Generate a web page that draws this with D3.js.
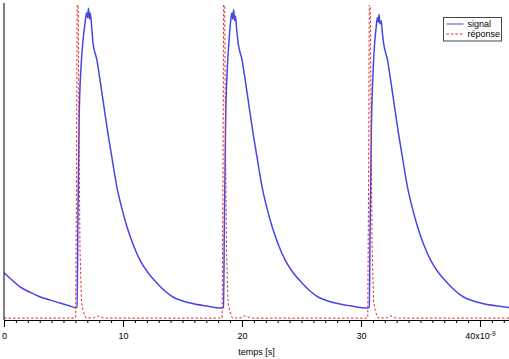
<!DOCTYPE html>
<html>
<head>
<meta charset="utf-8">
<script src="https://cdn.jsdelivr.net/npm/d3@7"></script>
<style>
  body { margin: 0; background: #fff; }
  svg { display: block; font-family: "Liberation Sans", Arial, sans-serif; }
</style>
</head>
<body>
<div id="chart"></div>
<script>
// signal (blue) : time in ns, amplitude in arbitrary units
const sigT = [0, 0.7, 1.34, 2.2, 3.0, 3.9, 4.7, 5.4, 6.05, 6.14, 6.22, 6.32, 6.47, 6.62, 6.8, 6.95, 7.03, 7.1, 7.18, 7.25, 7.35,
  7.48, 7.81, 8.07, 8.35, 8.65, 9.05, 9.49, 9.9, 10.34, 10.85, 11.43, 12.1, 12.86, 13.5, 14.2, 14.9, 15.63, 16.9, 18.3, 18.45,
  18.52, 18.62, 18.77, 18.92, 19.05, 19.15, 19.22, 19.3, 19.38, 19.45, 19.56,
  19.68, 20.01, 20.27, 20.55, 20.85, 21.25, 21.69, 22.1, 22.54, 23.05, 23.63, 24.3, 25.06, 25.7, 26.4, 27.1, 27.83, 29.1, 30.55, 30.7,
  30.77, 30.87, 31.02, 31.15, 31.28, 31.38, 31.45, 31.52, 31.6, 31.7, 31.8,
  31.9, 32.23, 32.49, 32.77, 33.07, 33.47, 33.91, 34.32, 34.76, 35.27, 35.85, 36.52, 37.28, 37.92, 38.62, 39.32, 40.05, 41.32, 42.44];
const sigV = [0.150, 0.126, 0.105, 0.088, 0.074, 0.063, 0.054, 0.046, 0.039, 0.040, 0.35, 0.65, 0.80, 0.88, 0.94, 0.975, 0.96, 0.99, 0.955, 0.975, 0.94,
  0.879, 0.825, 0.762, 0.69, 0.613, 0.52, 0.422, 0.355, 0.295, 0.24, 0.19, 0.15, 0.117, 0.093, 0.073, 0.062, 0.054, 0.045, 0.038, 0.040,
  0.30, 0.62, 0.80, 0.89, 0.95, 0.975, 0.955, 0.985, 0.95, 0.965, 0.92,
  0.879, 0.825, 0.762, 0.69, 0.613, 0.52, 0.422, 0.355, 0.295, 0.24, 0.19, 0.15, 0.117, 0.093, 0.073, 0.062, 0.054, 0.045, 0.038, 0.040,
  0.30, 0.60, 0.79, 0.88, 0.93, 0.96, 0.945, 0.97, 0.94, 0.95, 0.91,
  0.879, 0.825, 0.762, 0.69, 0.613, 0.52, 0.422, 0.355, 0.295, 0.24, 0.19, 0.15, 0.117, 0.093, 0.073, 0.062, 0.054, 0.045, 0.040];

// réponse (red dashed)
const repT = [0, 6.02, 6.1, 6.15, 6.23, 6.3, 6.39, 6.51, 6.64, 6.88, 7.6, 7.85, 8.05, 8.3, 8.6,
  18.33, 18.41, 18.46, 18.54, 18.61, 18.7, 18.82, 18.95, 19.19, 19.95, 20.2, 20.4, 20.65, 20.95,
  30.57, 30.65, 30.7, 30.78, 30.85, 30.94, 31.06, 31.19, 31.43, 32.2, 32.45, 32.65, 32.9, 33.2, 42.44];
const repV = [0.006, 0.006, 0.5, 1.05, 1.05, 0.6, 0.22, 0.06, 0.03, 0.006, 0.007, 0.013, 0.011, 0.007, 0.006,
  0.006, 0.5, 1.05, 1.05, 0.6, 0.22, 0.06, 0.03, 0.006, 0.007, 0.013, 0.011, 0.007, 0.006,
  0.006, 0.5, 1.05, 1.05, 0.6, 0.22, 0.06, 0.03, 0.006, 0.007, 0.013, 0.011, 0.007, 0.006, 0.006];

const xTicks = [0, 10, 20, 30, 40];
const xTickLabels = ["0", "10", "20", "30", "40x10"];
const seriesNames = ["signal", "réponse"];

const width = 509, height = 359;
const margin = { top: 5, right: 0, bottom: 39, left: 4 };

const svg = d3.select("#chart").append("svg")
  .attr("width", width)
  .attr("height", height);

const x = d3.scaleLinear().domain([0, 42.44]).range([margin.left, width - margin.right]);
const y = d3.scaleLinear().domain([0, 1]).range([height - margin.bottom, margin.top]);

svg.append("clipPath").attr("id", "clip")
  .append("rect")
  .attr("x", margin.left).attr("y", margin.top)
  .attr("width", width - margin.left - margin.right)
  .attr("height", height - margin.top - margin.bottom);

const line = d3.line().x(d => x(d[0])).y(d => y(d[1]));
const sigData = sigT.map((t, i) => [t, sigV[i]]);
const repData = repT.map((t, i) => [t, repV[i]]);

const plot = svg.append("g").attr("clip-path", "url(#clip)");

plot.append("path")
  .datum(sigData)
  .attr("d", line.curve(d3.curveMonotoneX))
  .attr("fill", "none")
  .attr("stroke", "#4646e6")
  .attr("stroke-width", 1.5)
  .attr("stroke-linejoin", "round");

plot.append("path")
  .datum(repData)
  .attr("d", line.curve(d3.curveLinear))
  .attr("fill", "none")
  .attr("stroke", "#e03030")
  .attr("stroke-width", 1)
  .attr("stroke-dasharray", "2.5,2");

// axes
const y0 = y(0);
svg.append("line")
  .attr("x1", margin.left).attr("x2", margin.left)
  .attr("y1", margin.top - 2).attr("y2", y0)
  .attr("stroke", "#000").attr("stroke-width", 1);

const xAxis = d3.axisBottom(x)
  .tickValues(d3.range(0, 43, 1))
  .tickSize(3)
  .tickFormat("");
svg.append("g")
  .attr("transform", `translate(0,${y0})`)
  .call(xAxis)
  .call(g => g.select(".domain").attr("stroke", "#000").attr("d", `M${margin.left},0.5H${width}`));

const major = d3.axisBottom(x)
  .tickValues(xTicks)
  .tickSize(7)
  .tickFormat((d, i) => xTickLabels[i]);
const majG = svg.append("g")
  .attr("transform", `translate(0,${y0})`)
  .call(major)
  .call(g => g.select(".domain").remove());
majG.selectAll("text")
  .attr("font-size", 9)
  .attr("font-family", "Liberation Sans, Arial, sans-serif")
  .attr("fill", "#000")
  .attr("dy", "1em");
majG.selectAll(".tick").filter(d => d === 40).select("text")
  .append("tspan")
  .attr("dy", "-0.45em")
  .attr("font-size", 6.5)
  .text("-9");

svg.append("text")
  .attr("x", (margin.left + width) / 2)
  .attr("y", 355)
  .attr("text-anchor", "middle")
  .attr("font-size", 9)
  .text("temps [s]");

// legend
const leg = svg.append("g").attr("transform", "translate(443.5,17.5)");
leg.append("rect")
  .attr("width", 58).attr("height", 23.5)
  .attr("fill", "#fff").attr("stroke", "#444").attr("stroke-width", 1);
const legStyles = [
  { stroke: "#4646e6", dash: null, w: 1 },
  { stroke: "#e03030", dash: "2.5,2", w: 1 }
];
seriesNames.forEach((name, i) => {
  const row = leg.append("g").attr("transform", `translate(0,${6.5 + i * 10})`);
  row.append("line")
    .attr("x1", 3).attr("x2", 20)
    .attr("stroke", legStyles[i].stroke)
    .attr("stroke-width", legStyles[i].w)
    .attr("stroke-dasharray", legStyles[i].dash);
  row.append("text")
    .attr("x", 24).attr("y", 3)
    .attr("font-size", 9)
    .text(name);
});
</script>
</body>
</html>
